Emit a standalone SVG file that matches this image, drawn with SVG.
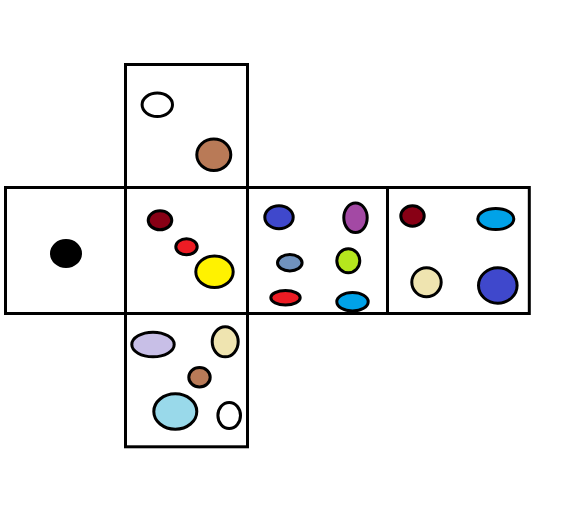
<svg xmlns="http://www.w3.org/2000/svg" width="582" height="528" viewBox="0 0 582 528">
<style>
.face{fill:none;stroke:#000;stroke-width:3}
.dot{stroke:#000;stroke-width:3}
</style>
<rect width="582" height="528" fill="#fff"/>
<g id="face-top">
<rect class="face" x="125.5" y="64.5" width="122" height="123"/>
<ellipse class="dot" cx="157.3" cy="104.8" rx="15.2" ry="11.7" fill="#ffffff"/>
<ellipse class="dot" cx="213.8" cy="154.8" rx="17" ry="15.7" fill="#b97a57"/>
</g>
<g id="face-left">
<rect class="face" x="5.5" y="187.5" width="120" height="126"/>
<ellipse class="dot" cx="66" cy="253.5" rx="14.5" ry="13" fill="#000000"/>
</g>
<g id="face-center">
<rect class="face" x="125.5" y="187.5" width="122" height="126"/>
<ellipse class="dot" cx="160" cy="220.3" rx="11.8" ry="9.5" fill="#880015"/>
<ellipse class="dot" cx="186.5" cy="246.8" rx="10.7" ry="8" fill="#ed1c24"/>
<ellipse class="dot" cx="214.5" cy="271.7" rx="18.7" ry="15.8" fill="#fff200"/>
</g>
<g id="face-right">
<rect class="face" x="247.5" y="187.5" width="140" height="126"/>
<ellipse class="dot" cx="279" cy="217.3" rx="14.2" ry="11.5" fill="#3f48cc"/>
<ellipse class="dot" cx="355.5" cy="217.8" rx="11.7" ry="14.7" fill="#a349a4"/>
<ellipse class="dot" cx="289.8" cy="262.7" rx="12.3" ry="8.2" fill="#7092be"/>
<ellipse class="dot" cx="348.3" cy="260.8" rx="11.5" ry="12" fill="#b5e61d"/>
<ellipse class="dot" cx="285.5" cy="297.7" rx="14.7" ry="7.2" fill="#ed1c24"/>
<ellipse class="dot" cx="352.5" cy="301.7" rx="15.7" ry="9.2" fill="#00a2e8"/>
</g>
<g id="face-far-right">
<rect class="face" x="387.5" y="187.5" width="141.8" height="126"/>
<ellipse class="dot" cx="412.5" cy="216" rx="11.7" ry="10.2" fill="#880015"/>
<ellipse class="dot" cx="495.8" cy="219" rx="18" ry="10.5" fill="#00a2e8"/>
<ellipse class="dot" cx="426.5" cy="282.3" rx="14.7" ry="14.5" fill="#efe4b0"/>
<ellipse class="dot" cx="497.8" cy="285.5" rx="19.3" ry="17.7" fill="#3f48cc"/>
</g>
<g id="face-bottom">
<rect class="face" x="125.5" y="313.5" width="122" height="133.3"/>
<ellipse class="dot" cx="153" cy="344.5" rx="21.2" ry="12.3" fill="#c8bfe7"/>
<ellipse class="dot" cx="225.2" cy="341.8" rx="13" ry="15" fill="#efe4b0"/>
<ellipse class="dot" cx="199.5" cy="377.2" rx="10.7" ry="9.7" fill="#b97a57"/>
<ellipse class="dot" cx="175.3" cy="411.5" rx="21.5" ry="17.7" fill="#99d9ea"/>
<ellipse class="dot" cx="229.2" cy="415.5" rx="11.3" ry="13" fill="#ffffff"/>
</g>
<g id="connectors"></g>
</svg>
